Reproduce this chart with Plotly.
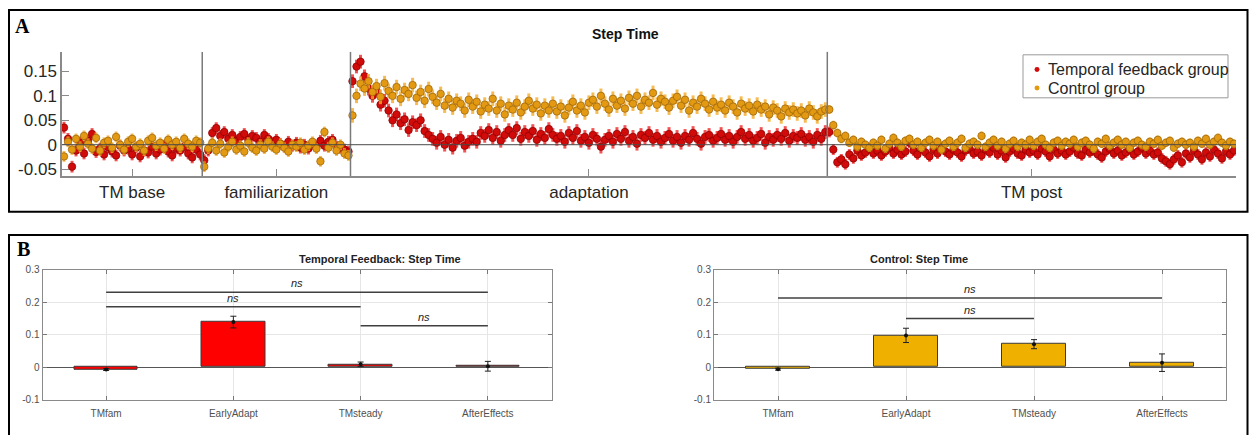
import plotly.graph_objects as go

W, H = 1249, 435

# ---------------- Panel A data (step time asymmetry per stride) ----------------
phase_names = ["TM base", "familiarization", "adaptation", "TM post"]

red_base = [0.035, 0.012, -0.045, -0.012, 0.004, -0.018, 0.008, 0.022, -0.015, -0.008,
            -0.02, -0.005, -0.014, -0.022, -0.002, -0.012, -0.008, -0.02, -0.006, -0.024,
            -0.012, -0.016, -0.004, -0.018, -0.01, -0.002, -0.014, -0.022, -0.008, -0.012,
            -0.004, -0.018, -0.026, -0.01, -0.02]
red_fam = [-0.032, -0.012, 0.024, 0.034, 0.018, 0.026, 0.012, 0.02, 0.008, 0.016,
           0.022, 0.01, 0.018, 0.014, 0.006, 0.02, 0.012, 0.004, 0.01, 0.002,
           -0.004, 0.006, -0.002, 0.004, -0.006, 0.0, -0.008, 0.002, -0.004, 0.008,
           -0.002, 0.006, 0.01, -0.004, -0.006, -0.01, -0.014]
red_adapt = [0.13, 0.16, 0.17, 0.14, 0.115, 0.1, 0.11, 0.082, 0.09, 0.07,
             0.05, 0.062, 0.044, 0.052, 0.03, 0.046, 0.04, 0.05, 0.028, 0.02,
             0.012, 0.004, 0.016, 0.0, 0.01, -0.006, 0.008, 0.014, -0.002, 0.006,
             0.012, 0.006, 0.024, 0.018, 0.03, 0.014, 0.026, 0.008, 0.02, 0.03,
             0.02, 0.034, 0.012, 0.026, 0.018, 0.028, 0.01, 0.022, 0.014, 0.032,
             0.02, 0.012, 0.018, 0.006, 0.024, 0.014, 0.028, 0.008, 0.016, 0.004,
             0.02, 0.012, -0.004, 0.01, 0.018, 0.006, 0.022, 0.012, 0.026, 0.008,
             0.016, 0.002, 0.02, 0.014, 0.024, 0.01, 0.018, 0.006, 0.014, 0.022,
             0.008, 0.016, 0.004, 0.018, 0.01, 0.024, 0.012, 0.002, 0.016, 0.02,
             0.008, 0.014, 0.022, 0.01, 0.018, 0.006, 0.016, 0.026, 0.012, 0.02,
             0.008, 0.014, 0.022, 0.004, 0.016, 0.01, 0.02, 0.012, 0.024, 0.008,
             0.018, 0.014, 0.022, 0.01, 0.016, 0.006, 0.02, 0.012, 0.026]
red_post = [0.026, -0.01, -0.036, -0.03, -0.04, -0.02, -0.028, -0.012, -0.022, -0.016,
            -0.008, -0.018, -0.012, -0.022, -0.014, -0.006, -0.018, -0.01, -0.02, -0.014,
            0.004, -0.012, -0.02, -0.008, -0.016, -0.024, -0.01, -0.018, -0.006, -0.014,
            -0.02, -0.01, -0.016, -0.024, -0.012, -0.008, -0.018, -0.014, -0.022, -0.01,
            -0.016, -0.006, -0.02, -0.012, -0.026, -0.014, -0.008, -0.018, -0.022, -0.01,
            -0.016, -0.012, -0.02, -0.008, -0.014, -0.024, -0.01, -0.018, -0.012, -0.02,
            -0.014, -0.006, -0.018, -0.022, -0.01, -0.016, -0.012, -0.02, -0.026, -0.014,
            -0.008, -0.018, -0.012, -0.022, -0.016, -0.01, -0.02, -0.014, -0.006, -0.018,
            -0.012, -0.02, -0.016, -0.028, -0.034, -0.04, -0.03, -0.022, -0.036, -0.018,
            -0.026, -0.012, -0.02, -0.03, -0.016, -0.024, -0.01, -0.018, -0.028, -0.014,
            -0.02, -0.012]

ctl_base = [-0.024, 0.006, -0.01, 0.012, -0.004, 0.018, 0.002, -0.008, 0.014, -0.012,
            0.004, 0.008, -0.006, 0.016, 0.0, -0.01, 0.006, 0.012, -0.004, 0.002,
            -0.012, 0.008, 0.014, -0.002, 0.004, -0.008, 0.01, 0.0, 0.006, -0.006,
            0.012, 0.002, -0.004, 0.008, 0.004]
ctl_fam = [-0.045, -0.008, 0.004, -0.012, 0.002, -0.016, -0.004, 0.006, -0.01, -0.002,
           -0.014, 0.004, -0.006, -0.012, 0.0, -0.008, 0.006, -0.004, -0.01, 0.002,
           -0.006, -0.014, 0.0, -0.004, 0.004, -0.01, -0.002, 0.006, -0.008, -0.034,
           0.026, -0.006, 0.004, -0.012, 0.0, -0.018, -0.022]
ctl_adapt = [0.06, 0.1, 0.125, 0.115, 0.13, 0.108, 0.12, 0.098, 0.126, 0.11,
             0.1, 0.118, 0.094, 0.112, 0.104, 0.122, 0.096, 0.108, 0.09, 0.114,
             0.098, 0.086, 0.104, 0.08, 0.094, 0.076, 0.09, 0.084, 0.07, 0.092,
             0.078, 0.088, 0.068, 0.082, 0.074, 0.094, 0.07, 0.084, 0.062, 0.08,
             0.072, 0.086, 0.066, 0.078, 0.09, 0.074, 0.082, 0.064, 0.08, 0.07,
             0.084, 0.068, 0.078, 0.06, 0.076, 0.088, 0.07, 0.08, 0.066, 0.086,
             0.092, 0.078, 0.1, 0.084, 0.072, 0.094, 0.08, 0.09, 0.074, 0.096,
             0.084, 0.1, 0.078, 0.092, 0.086, 0.106, 0.082, 0.094, 0.088, 0.076,
             0.09, 0.098, 0.08, 0.092, 0.07, 0.086, 0.078, 0.094, 0.084, 0.072,
             0.088, 0.076, 0.082, 0.07, 0.086, 0.078, 0.066, 0.084, 0.074, 0.08,
             0.068, 0.082, 0.072, 0.078, 0.062, 0.076, 0.07, 0.058, 0.074, 0.066,
             0.072, 0.064, 0.07, 0.06, 0.074, 0.066, 0.058, 0.068, 0.072]
ctl_post = [0.072, 0.04, 0.024, 0.012, 0.018, 0.004, 0.01, -0.004, 0.006, 0.0,
            -0.006, 0.004, -0.002, 0.01, -0.008, 0.002, 0.014, 0.004, -0.004, 0.008,
            0.012, 0.0, 0.006, -0.006, 0.004, 0.01, -0.002, 0.006, -0.01, 0.002,
            0.008, -0.004, 0.004, 0.012, -0.006, 0.002, 0.006, 0.0, 0.018, -0.004,
            0.004, 0.01, -0.002, 0.006, -0.008, 0.002, 0.008, -0.004, 0.004, 0.0,
            0.01, -0.002, 0.006, 0.012, 0.0, -0.006, 0.004, 0.008, -0.002, 0.006,
            0.002, 0.01, -0.004, 0.004, 0.008, 0.0, -0.008, 0.006, 0.002, 0.012,
            -0.002, 0.004, 0.01, 0.0, 0.006, -0.006, 0.004, 0.008, 0.0, -0.004,
            0.006, 0.002, 0.01, -0.002, 0.004, 0.008, -0.006, 0.002, 0.006, 0.0,
            0.004, -0.004, 0.008, 0.002, 0.012, 0.0, 0.006, 0.014, 0.004, -0.002,
            0.006, 0.002]

# per-phase standard error (approx.)
red_sem = [0.012, 0.012, 0.014, 0.011]
ctl_sem = [0.011, 0.011, 0.015, 0.009]

# ---------------- Panel B data ----------------
categories = ["TMfam", "EarlyAdapt", "TMsteady", "AfterEffects"]
tf_vals = [-0.007, 0.139, 0.009, 0.003]
tf_err = [0.003, 0.018, 0.007, 0.015]
ctl_vals = [-0.006, 0.098, 0.071, 0.014]
ctl_err = [0.003, 0.022, 0.014, 0.027]
tf_sig = [(1, 4, 0.231), (1, 3, 0.186), (3, 4, 0.128)]
ctl_sig = [(1, 4, 0.213), (2, 3, 0.150)]

# ---------------- helpers ----------------
def px(x):
    return x / W

def py(y):
    return 1 - y / H

red_segs = [red_base, red_fam, red_adapt, red_post]
ctl_segs = [ctl_base, ctl_fam, ctl_adapt, ctl_post]
seg_len = [len(s) for s in red_segs]

def flatten(segs):
    out = []
    for s in segs:
        out.extend(s)
    return out

def expand_err(segs, sem):
    out = []
    for s, e in zip(segs, sem):
        out.extend([e] * len(s))
    return out

N = sum(seg_len)
xs = list(range(1, N + 1))
bounds = []
acc = 0
for L in seg_len[:-1]:
    acc += L
    bounds.append(acc + 0.5)
edges = [0.5] + bounds + [N + 0.5]
centers = [(edges[i] + edges[i + 1]) / 2 for i in range(4)]

FONT = "Liberation Sans, Arial, sans-serif"
TXT = "#262626"

fig = go.Figure()

fig.add_trace(go.Scatter(
    x=xs, y=flatten(red_segs), mode="markers", name="Temporal feedback group",
    marker=dict(size=7.5, color="#d10a0a", line=dict(color="#8a0000", width=0.7)),
    error_y=dict(type="data", array=expand_err(red_segs, red_sem), color="rgba(240,40,40,0.8)",
                 thickness=3, width=0),
    xaxis="x", yaxis="y", showlegend=False))
fig.add_trace(go.Scatter(
    x=xs, y=flatten(ctl_segs), mode="markers", name="Control group",
    marker=dict(size=7.5, color="#e39a12", line=dict(color="#95600a", width=0.7)),
    error_y=dict(type="data", array=expand_err(ctl_segs, ctl_sem), color="rgba(245,170,40,0.8)",
                 thickness=3, width=0),
    xaxis="x", yaxis="y", showlegend=False))

# Panel B bars
for vals, errs, color, xa, ya in [(tf_vals, tf_err, "#ff0000", "x2", "y2"),
                                 (ctl_vals, ctl_err, "#efb000", "x3", "y3")]:
    fig.add_trace(go.Bar(x=[1, 2, 3, 4], y=vals, width=0.5,
                         marker=dict(color=color, line=dict(color="#3a3a3a", width=1)),
                         xaxis=xa, yaxis=ya, showlegend=False))
    fig.add_trace(go.Scatter(x=[1, 2, 3, 4], y=vals, mode="markers",
                             marker=dict(size=4, color="#111"),
                             error_y=dict(type="data", array=errs, color="#222", thickness=1, width=3),
                             xaxis=xa, yaxis=ya, showlegend=False))

shapes = []
annotations = []

# separators and zero line in panel A
for b in bounds:
    shapes.append(dict(type="line", xref="x", yref="y domain", x0=b, x1=b, y0=0, y1=1,
                       line=dict(color="#7a7a7a", width=1.5), layer="above"))
shapes.append(dict(type="line", xref="x domain", yref="y", x0=0, x1=1, y0=0, y1=0,
                   line=dict(color="#4a4a4a", width=1), layer="above"))

# significance lines in panel B
for sig, xa, ya in [(tf_sig, "x2", "y2"), (ctl_sig, "x3", "y3")]:
    for a, b, yv in sig:
        shapes.append(dict(type="line", xref=xa, yref=ya, x0=a, x1=b, y0=yv, y1=yv,
                           line=dict(color="#404040", width=1.5)))
        annotations.append(dict(x=(a + b) / 2, y=yv, xref=xa, yref=ya, text="<i>ns</i>",
                                showarrow=False, yanchor="bottom", yshift=1,
                                font=dict(family=FONT, size=11, color="#222")))

# panel borders
shapes.append(dict(type="rect", xref="paper", yref="paper", x0=px(9), x1=px(1247.5),
                   y0=py(211.5), y1=py(5), line=dict(color="black", width=2)))
shapes.append(dict(type="rect", xref="paper", yref="paper", x0=px(9), x1=px(1247.5),
                   y0=py(450), y1=py(235.5), line=dict(color="black", width=2)))

# custom legend
shapes.append(dict(type="rect", xref="paper", yref="paper", x0=px(1023), x1=px(1228),
                   y0=py(95), y1=py(51), line=dict(color="#9a9a9a", width=1), fillcolor="white"))
for yy, col in [(66, "#d10a0a"), (85, "#e39a12")]:
    shapes.append(dict(type="circle", xref="paper", yref="paper",
                       x0=px(1034.5), x1=px(1039.5), y0=py(yy + 2.5), y1=py(yy - 2.5),
                       fillcolor=col, line=dict(color=col, width=0)))
for yy, txt in [(66, "Temporal feedback group"), (85, "Control group")]:
    annotations.append(dict(x=px(1046), y=py(yy), xref="paper", yref="paper", text=txt,
                            showarrow=False, xanchor="left", yanchor="middle",
                            font=dict(family=FONT, size=16, color=TXT)))

# titles and panel letters
annotations.append(dict(x=px(625), y=py(30), xref="paper", yref="paper", text="<b>Step Time</b>",
                        showarrow=False, yanchor="middle",
                        font=dict(family=FONT, size=14, color="#111")))
annotations.append(dict(x=px(297), y=py(260), xref="paper", yref="paper",
                        text="<b>Temporal Feedback: Step Time</b>", showarrow=False, yanchor="middle",
                        font=dict(family=FONT, size=11, color="#222")))
annotations.append(dict(x=px(970), y=py(260), xref="paper", yref="paper",
                        text="<b>Control: Step Time</b>", showarrow=False, yanchor="middle",
                        font=dict(family=FONT, size=11, color="#222")))
annotations.append(dict(x=px(13), y=py(21), xref="paper", yref="paper", text="<b>A</b>",
                        showarrow=False, xanchor="left", yanchor="middle",
                        font=dict(family="Liberation Serif, Times New Roman, serif", size=20, color="black")))
annotations.append(dict(x=px(15), y=py(250), xref="paper", yref="paper", text="<b>B</b>",
                        showarrow=False, xanchor="left", yanchor="middle",
                        font=dict(family="Liberation Serif, Times New Roman, serif", size=20, color="black")))

axis_gray = "#8a8a8a"
bottom_x = dict(range=[0.5, 4.5], tickvals=[1, 2, 3, 4], ticktext=categories,
                ticks="inside", ticklen=4, tickcolor="#777", showline=True, mirror="ticks",
                linecolor=axis_gray, linewidth=1, showgrid=True, gridcolor="#e6e6e6",
                zeroline=False, ticklabelstandoff=4,
                tickfont=dict(family=FONT, size=10, color="#505050"))
bottom_y = dict(range=[-0.1, 0.3], tickvals=[-0.1, 0, 0.1, 0.2, 0.3],
                ticktext=["-0.1", "0", "0.1", "0.2", "0.3"],
                ticks="inside", ticklen=4, tickcolor="#777", showline=True, mirror="ticks",
                linecolor=axis_gray, linewidth=1, showgrid=True, gridcolor="#e6e6e6",
                zeroline=True, zerolinecolor="#555", zerolinewidth=1,
                tickfont=dict(family=FONT, size=10, color="#505050"),
                domain=[py(404), py(271)])

fig.update_layout(
    width=W, height=H, autosize=False,
    margin=dict(l=0, r=0, t=0, b=0),
    paper_bgcolor="white", plot_bgcolor="white",
    font=dict(family=FONT, color=TXT),
    bargap=0,
    xaxis=dict(domain=[px(62), px(1236)], range=[0.5, N + 0.5], tickvals=centers,
               ticktext=phase_names, ticks="inside", ticklen=7, tickcolor=axis_gray,
               showline=True, linecolor=axis_gray, linewidth=1.5, showgrid=False, zeroline=False,
               tickfont=dict(family=FONT, size=17, color=TXT), anchor="y"),
    yaxis=dict(domain=[py(175), py(48)], range=[-0.064, 0.19],
               tickvals=[-0.05, 0, 0.05, 0.1, 0.15], ticktext=["-0.05", "0", "0.05", "0.1", "0.15"],
               ticks="inside", ticklen=7, tickcolor=axis_gray, showline=True, linecolor=axis_gray,
               linewidth=1.5, showgrid=False, zeroline=False,
               tickfont=dict(family=FONT, size=17, color=TXT), anchor="x"),
    xaxis2=dict(domain=[px(42.5), px(551.5)], anchor="y2", **bottom_x),
    yaxis2=dict(anchor="x2", **bottom_y),
    xaxis3=dict(domain=[px(714), px(1226)], anchor="y3", **bottom_x),
    yaxis3=dict(anchor="x3", **bottom_y),
    shapes=shapes,
    annotations=annotations,
)

fig.write_html("out.html", config={"displayModeBar": False},
               post_script="document.body.style.margin='0';document.body.style.overflow='hidden';")
